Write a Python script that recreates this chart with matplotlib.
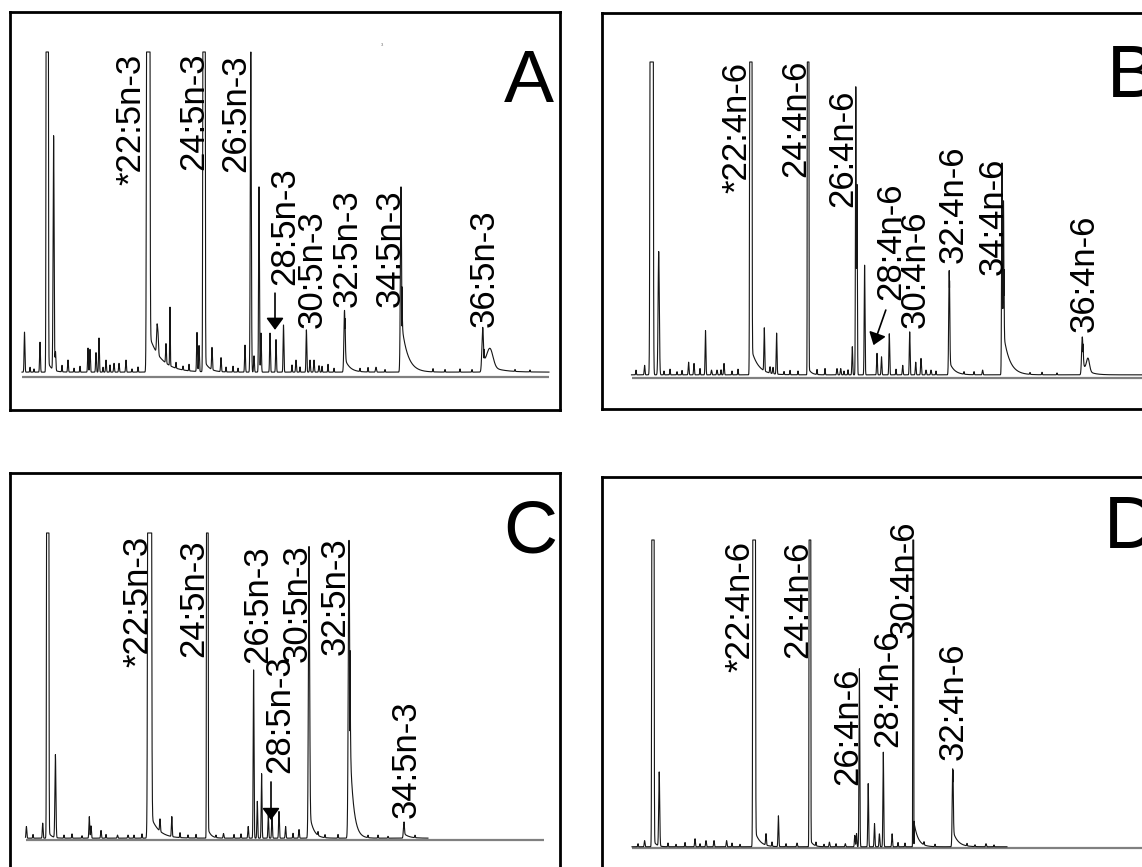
import numpy as np
import matplotlib
matplotlib.use("Agg")
import matplotlib.pyplot as plt

plt.rcParams['font.family'] = ['Liberation Sans', 'DejaVu Sans']

## Données ##
# pics : temps de rétention [min], hauteur [% pleine échelle], largeur [min]
# hauteur > 100 -> pic saturé, écrêté à la pleine échelle

# A : n-3
A_rt = [1.45, 3.0, 3.72, 4.36, 4.55, 5.8, 7.8, 8.0, 8.6, 8.9, 9.6, 10.4, 10.9, 11.6,
        13.82, 14.7, 14.8, 15.6, 16.0, 18.7, 18.9, 19.4, 20.2, 21.1, 23.5, 24.08, 24.4,
        24.9, 25.1, 26.0, 26.6, 27.35, 28.6, 29.64, 30.0, 30.4, 30.9, 33.45, 36.6, 39.1,
        47.27, 48.0]
A_h = [12.3, 9.2, 3000, 72, 5.8, 3.7, 7.4, 7.0, 6.0, 10.5, 3.7, 2.7, 2.7, 3.7,
       3000, 8.0, 6.0, 6.0, 18, 12, 8.0, 3000, 6.8, 4.3, 8.3, 99, 5.0,
       57, 12, 12, 10, 14.5, 3.7, 13, 3.7, 3.7, 2.0, 19, 1.5, 57,
       13.5, 5.5]
A_w = [0.04, 0.04, 0.048, 0.05, 0.04, 0.04, 0.04, 0.04, 0.04, 0.04, 0.04, 0.04, 0.04, 0.04,
       0.07, 0.05, 0.05, 0.04, 0.03, 0.04, 0.04, 0.05, 0.04, 0.04, 0.04, 0.05, 0.04,
       0.04, 0.04, 0.04, 0.04, 0.04, 0.04, 0.04, 0.04, 0.04, 0.04, 0.06, 0.05, 0.06,
       0.08, 0.30]
A_noise_rt = [2.0, 2.4, 5.2, 6.4, 7.0, 9.3, 10.0, 12.2, 12.8, 16.6, 17.3, 17.9, 21.6, 22.3,
              22.8, 28.2, 29.0, 31.2, 31.8, 32.4, 35.0, 35.8, 37.5, 42.3, 43.5, 45.0, 46.2,
              50.5, 52.0]
A_noise_h = [1.5, 1.0, 2.0, 1.2, 1.8, 1.5, 2.2, 1.0, 1.6, 1.8, 1.2, 2.0, 1.5, 1.8,
             1.2, 2.2, 1.6, 1.8, 2.4, 1.2, 1.0, 1.4, 0.8, 1.0, 0.8, 1.0, 0.8,
             0.6, 0.6]
A_tail_rt = [3.8, 13.95, 19.5, 33.5, 39.2, 47.4]
A_tail_h = [3.0, 11, 3.0, 4.0, 14, 3.0]
A_tail_tau = [0.4, 1.2, 0.5, 0.5, 0.6, 1.2]
A_labels = ['*22:5n-3', '24:5n-3', '26:5n-3', '28:5n-3', '30:5n-3', '32:5n-3', '34:5n-3', '36:5n-3']
A_lab_rt = [12.1, 18.4, 22.6, 27.5, 30.2, 33.7, 38.0, 47.4]
A_lab_y = [59.1, 63.7, 63.1, 28.3, 15.1, 21.5, 21.5, 15.4]

# B : n-6
B_rt = [4.26, 4.96, 5.67, 8.66, 9.2, 10.35, 10.95, 11.5, 12.2, 14.88, 16.23, 16.8, 17.1,
        17.46, 20.61, 23.5, 23.87, 25.03, 25.38, 25.5, 26.26, 27.5, 27.95, 28.73, 30.07,
        30.77, 31.37, 31.9, 32.4, 32.9, 34.72, 38.06, 40.0, 40.15, 48.03, 48.6]
B_h = [3.0, 3000, 39, 4.0, 3.6, 14, 1.5, 1.5, 3.6, 3000, 13.6, 2.0, 2.0,
       13, 3000, 2.0, 2.0, 8.9, 91, 60, 34.7, 6.8, 5.7, 13, 3.0,
       13.6, 4.0, 5.2, 1.5, 1.5, 33, 1.5, 67, 55, 12, 4.0]
B_w = [0.04, 0.067, 0.06, 0.04, 0.04, 0.04, 0.04, 0.04, 0.04, 0.048, 0.04, 0.04, 0.04,
       0.04, 0.033, 0.04, 0.04, 0.04, 0.035, 0.035, 0.04, 0.04, 0.04, 0.04, 0.04,
       0.04, 0.04, 0.04, 0.04, 0.04, 0.05, 0.04, 0.04, 0.04, 0.07, 0.15]
B_noise_rt = [3.4, 6.2, 6.8, 7.5, 8.0, 9.8, 11.9, 13.0, 13.6, 18.2, 18.8, 19.6, 21.5, 22.3,
              24.2, 24.6, 29.4, 33.4, 36.2, 37.2, 42.8, 44.0, 45.5]
B_noise_h = [1.5, 1.2, 1.8, 1.0, 1.4, 2.0, 1.6, 1.2, 1.8, 1.0, 1.4, 1.2, 1.6, 2.0,
             1.2, 1.6, 1.8, 1.2, 0.8, 1.0, 0.6, 0.8, 0.6]
B_tail_rt = [14.95, 20.65, 34.75, 40.2, 48.1]
B_tail_h = [8.0, 2.0, 4.0, 12, 3.0]
B_tail_tau = [0.7, 0.3, 0.5, 0.6, 0.6]
B_labels = ['*22:4n-6', '24:4n-6', '26:4n-6', '28:4n-6', '30:4n-6', '32:4n-6', '34:4n-6', '36:4n-6']
B_lab_rt = [13.45, 19.4, 24.1, 28.85, 31.3, 35.1, 39.16, 48.2]
B_lab_y = [58.5, 63.6, 54.1, 24.7, 15.8, 36.4, 32.6, 14.6]

# C : n-3
C_rt = [1.64, 3.27, 3.77, 4.54, 7.93, 8.1, 9.1, 10.75, 11.8, 13.96, 15.0, 16.18, 19.73,
        21.35, 23.82, 24.36, 24.73, 25.16, 25.83, 26.2, 26.9, 27.56, 28.9, 29.9, 33.9, 39.38]
C_h = [3.8, 4.9, 3000, 27, 7.0, 4.0, 2.5, 1.0, 1.0, 3000, 4.0, 6.5, 3000,
       1.5, 3.8, 54.8, 12, 21, 7.6, 7.6, 8.7, 3.8, 2.8, 95, 97, 4.3]
C_w = [0.04, 0.04, 0.048, 0.05, 0.04, 0.04, 0.04, 0.04, 0.04, 0.08, 0.04, 0.04, 0.035,
       0.04, 0.04, 0.04, 0.04, 0.04, 0.04, 0.04, 0.04, 0.04, 0.04, 0.06, 0.07, 0.05]
C_noise_rt = [2.3, 5.4, 6.2, 7.2, 9.6, 12.4, 13.2, 17.0, 17.8, 18.6, 20.6, 22.4, 23.1,
              28.3, 30.8, 31.5, 32.8, 35.8, 36.8, 37.8, 40.5]
C_noise_h = [1.2, 1.0, 1.4, 0.8, 1.2, 1.0, 1.4, 1.6, 1.0, 1.2, 0.8, 1.2, 1.4,
             1.6, 1.2, 1.0, 1.2, 0.8, 1.0, 0.6, 0.8]
C_tail_rt = [3.85, 14.0, 19.8, 29.95, 34.0, 39.4]
C_tail_h = [2.0, 8.0, 3.0, 8.0, 30, 1.5]
C_tail_tau = [0.3, 0.8, 0.3, 0.4, 0.35, 0.5]
C_labels = ['*22:5n-3', '24:5n-3', '26:5n-3', '28:5n-3', '30:5n-3', '32:5n-3', '34:5n-3']
C_lab_rt = [12.75, 18.4, 24.8, 26.95, 28.75, 32.55, 39.66]
C_lab_y = [56.4, 59.6, 57.7, 21.8, 58.0, 60.3, 7.2]

# D : n-6
D_rt = [4.26, 5.09, 5.72, 9.3, 10.4, 11.2, 12.46, 15.21, 16.4, 17.64, 19.5, 20.79, 22.74,
        24.33, 25.28, 25.45, 25.74, 26.62, 27.25, 27.74, 28.13, 29.01, 31.12, 35.07, 38.4]
D_h = [2.0, 3000, 24, 2.6, 2.0, 2.0, 2.0, 3000, 3.7, 10, 1.2, 3000, 1.5,
       1.0, 3.7, 4.3, 57.8, 20.5, 7.5, 4.2, 30.7, 4.2, 3000, 25.3, 1.0]
D_w = [0.04, 0.048, 0.05, 0.04, 0.04, 0.04, 0.04, 0.054, 0.04, 0.04, 0.04, 0.035, 0.04,
       0.04, 0.04, 0.04, 0.04, 0.04, 0.04, 0.04, 0.04, 0.04, 0.02, 0.05, 0.04]
D_noise_rt = [3.6, 6.6, 7.4, 8.3, 9.8, 13.0, 13.8, 17.0, 18.4, 21.4, 22.2, 23.4, 29.6,
              30.3, 32.2, 33.3, 36.5, 37.3, 39.2]
D_noise_h = [1.0, 1.2, 0.8, 1.4, 1.0, 1.2, 0.8, 1.4, 1.0, 1.2, 0.8, 1.0, 1.4,
             1.2, 1.0, 0.8, 0.8, 0.6, 0.6]
D_tail_rt = [5.15, 15.3, 20.85, 31.2, 35.1]
D_tail_h = [2.0, 5.0, 2.0, 8.0, 5.0]
D_tail_tau = [0.3, 0.5, 0.3, 0.4, 0.5]
D_labels = ['*22:4n-6', '24:4n-6', '26:4n-6', '28:4n-6', '30:4n-6', '32:4n-6']
D_lab_rt = [13.8, 19.6, 24.6, 28.6, 30.25, 35.1]
D_lab_y = [57.1, 61.7, 20.5, 32.8, 68.2, 28.6]


## Mise en page (pixels) ##
W, H = 1142, 867
fig = plt.figure(figsize=(W / 100, H / 100), dpi=100)


def trace(t, rt, h, w, nrt, nh, trt, th, ttau, offset):
    y = np.full_like(t, offset)
    rt = list(rt) + list(nrt)                                                  # pics + bruit de fond
    h = list(h) + list(nh)
    w = list(w) + [0.03] * len(nrt)
    for r, hh, ww in zip(rt, h, w):
        y += hh * np.exp(-0.5 * ((t - r) / ww) ** 2)
    for r, hh, tau in zip(trt, th, ttau):
        d = np.clip(t - r, 0, None)
        y += np.where(t >= r, hh * np.exp(-d / tau), 0)
    return np.minimum(y, 100)                                                  # saturation


def panel(box, base, top, peaks, tails, offset, t_range, base_range,
          labels, lab_rt, lab_y, letter, letter_pos, arrow=None):
    l, t, r, b = box
    ax = fig.add_axes([l / W, 1 - b / H, (r - l) / W, (b - t) / H])
    k = (base - top) / 100
    ax.set_xlim(0, 55)
    ax.set_ylim(-(b - base) / k, (base - t) / k)
    ax.set_xticks([])
    ax.set_yticks([])
    for s in ax.spines.values():
        s.set_linewidth(2)
        s.set_color('black')

    ax.plot(base_range, [0, 0], color='#808080', lw=1.6, solid_capstyle='butt')
    tt = np.arange(t_range[0], t_range[1], 0.005)
    ax.plot(tt, trace(tt, *peaks, *tails, offset), color='#151515', lw=0.8)

    for s, x, y in zip(labels, lab_rt, lab_y):
        ax.text(x, y, s, rotation=90, ha='center', va='bottom', fontsize=25)
    ax.text(letter_pos[0], letter_pos[1], letter, ha='left', va='baseline', fontsize=54)

    if arrow is not None:
        ax.annotate('', xy=arrow[2:], xytext=arrow[:2],
                    arrowprops=dict(arrowstyle='-|>,head_length=0.3,head_width=0.22',
                                    color='black', lw=1.2, mutation_scale=24,
                                    shrinkA=0, shrinkB=0))
    return ax


axA = panel((10, 12, 560, 410), 377, 52, (A_rt, A_h, A_w, A_noise_rt, A_noise_h),
            (A_tail_rt, A_tail_h, A_tail_tau), 1.5, (1.2, 53.9), (1.2, 53.9),
            A_labels, A_lab_rt, A_lab_y, 'A', (49.4, 84.6), arrow=(26.5, 25.8, 26.5, 14.5))
axA.text(37.2, 102, '3', fontsize=3, color='#666666', ha='center', va='center')

panel((602, 13, 1152, 409), 378, 62, (B_rt, B_h, B_w, B_noise_rt, B_noise_h),
      (B_tail_rt, B_tail_h, B_tail_tau), 1.0, (2.95, 56), (2.95, 56),
      B_labels, B_lab_rt, B_lab_y, 'B', (50.5, 88.9), arrow=(28.38, 21.5, 27.15, 10.4))

panel((10, 473, 560, 871), 840, 533, (C_rt, C_h, C_w, C_noise_rt, C_noise_h),
      (C_tail_rt, C_tail_h, C_tail_tau), 0.6, (1.55, 41.8), (1.55, 53.4),
      C_labels, C_lab_rt, C_lab_y, 'C', (49.3, 93.5), arrow=(26.1, 18.9, 26.1, 6.5))

panel((602, 477, 1152, 875), 848, 540, (D_rt, D_h, D_w, D_noise_rt, D_noise_h),
      (D_tail_rt, D_tail_h, D_tail_tau), 0.4, (3.0, 40.5), (3.0, 56),
      D_labels, D_lab_rt, D_lab_y, 'D', (50.2, 97.5))

fig.savefig('out.png', dpi=100)
